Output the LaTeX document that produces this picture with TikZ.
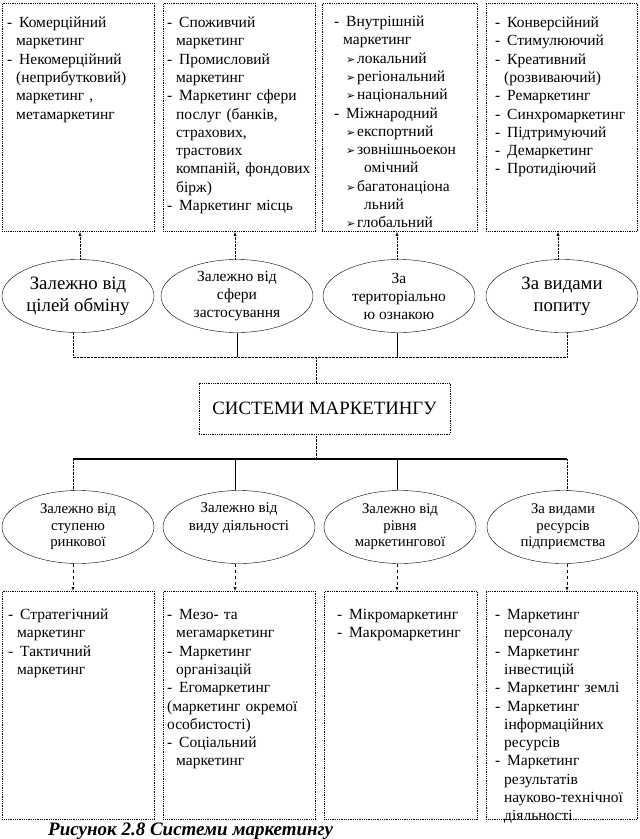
\documentclass[tikz,border=0pt]{standalone}
\usepackage{fontspec}
\setmainfont{Liberation Serif}
\newfontfamily\symfont{DejaVu Sans}
\usetikzlibrary{shapes.geometric}

\newcommand{\itm}[1]{\par\hangindent=9pt\hangafter=1\noindent\makebox[12pt][l]{-}#1}
\newcommand{\ritm}[1]{\par\hangindent=30pt\hangafter=1\noindent\hspace*{12pt}\makebox[11pt][l]{\symfont\fontsize{11}{11}\selectfont ➢}#1}

\tikzset{
    tbox/.style={draw,densely dotted,line width=0.8pt,inner sep=0pt,anchor=north west},
    tbody/.style={anchor=north west,inner sep=0pt,text width=150pt,align=left,font=\fontsize{15.5}{18.3}\selectfont},
    ellip/.style={draw,ellipse,minimum width=152,minimum height=73,inner sep=-4pt,align=center},
    big/.style={font=\fontsize{18.8}{22}\selectfont},
    mid/.style={font=\fontsize{15.5}{18}\selectfont},
    small/.style={font=\fontsize{14.8}{16.5}\selectfont}
}

\begin{document}
\begin{tikzpicture}[x=1pt,y=-1pt,>=latex]
        \useasboundingbox (0,0) rectangle (640,839);

        % top boxes
        \node[tbox,minimum width=152,minimum height=228] (T1) at (2,3) {};
        \node[tbox,minimum width=152,minimum height=228] (T2) at (163,3) {};
        \node[tbox,minimum width=155,minimum height=228] (T3) at (322,3) {};
        \node[tbox,minimum width=151,minimum height=228] (T4) at (486,3) {};

        \node[tbody] (t1) at ([xshift=5pt,yshift=-6pt]T1.north west) {
            \itm{Комерційний\newline маркетинг}
            \itm{Некомерційний\newline (неприбутковий)\newline маркетинг ,\newline метамаркетинг}\par};
        \node[tbody] (t2) at ([xshift=4pt,yshift=-6pt]T2.north west) {
            \itm{Споживчий\newline маркетинг}
            \itm{Промисловий\newline маркетинг}
            \itm{Маркетинг сфери\newline послуг (банків,\newline страхових,\newline трастових\newline компаній, фондових\newline бірж)}
            \itm{Маркетинг місць}\par};
        \node[tbody] (t3) at ([xshift=12pt,yshift=-5pt]T3.north west) {
            \itm{Внутрішній\newline маркетинг}
            \ritm{локальний}
            \ritm{регіональний}
            \ritm{національний}
            \itm{Міжнародний}
            \ritm{експортний}
            \ritm{зовнішньоекон\newline омічний}
            \ritm{багатонаціона\newline льний}
            \ritm{глобальний}\par};
        \node[tbody] (t4) at ([xshift=9pt,yshift=-6pt]T4.north west) {
            \itm{Конверсійний}
            \itm{Стимулюючий}
            \itm{Креативний\newline (розвиваючий)}
            \itm{Ремаркетинг}
            \itm{Синхромаркетинг}
            \itm{Підтримуючий}
            \itm{Демаркетинг}
            \itm{Протидіючий}\par};

        % top ellipses
        \node[ellip,big] (E1) at (78,296) {Залежно від\\цілей обміну};
        \node[ellip,mid] (E2) at (237,296) {Залежно від\\сфери\\застосування};
        \node[ellip,mid] (E3) at (399,296) {За\\територіально\\ю ознакою};
        \node[ellip,big] (E4) at (562,296) {За видами\\попиту};

        \draw[densely dotted,->] ([xshift=2pt]E1.north) -- ([xshift=2pt]E1.north |- T1.south);
        \draw[densely dotted,->] ([xshift=-2pt]E2.north) -- ([xshift=-2pt]E2.north |- T2.south);
        \draw[densely dotted,->] ([xshift=-2pt]E3.north) -- ([xshift=-2pt]E3.north |- T3.south);
        \draw[densely dotted,->] ([xshift=-4pt]E4.north) -- ([xshift=-4pt]E4.north |- T4.south);

        % centre
        \node[draw,densely dotted,line width=0.8pt,minimum width=251,minimum height=51,font=\fontsize{18.8}{20}\selectfont] (sys) at (324.5,408.5) {СИСТЕМИ МАРКЕТИНГУ};
        \coordinate (ub) at (316,357);
        \coordinate (lb) at (316,459);

        \draw[densely dotted] ([xshift=-5pt]E1.south) |- ([xshift=5pt]E4.south |- ub) -- ([xshift=5pt]E4.south);
        \draw (E2.south) -- (E2.south |- ub);
        \draw ([xshift=-2pt]E3.south) -- ([xshift=-2pt]E3.south |- ub);
        \draw[densely dotted] (ub) -- (ub |- sys.north);
        \draw[densely dotted] (ub |- sys.south) -- (lb);

        % bottom ellipses
        \node[ellip,small] (F1) at (78,527) {Залежно від\\ступеню\\ринкової};
        \node[ellip] (F2) at (239,527) {};
        \node[align=center,inner sep=0pt,font=\fontsize{15}{17.5}\selectfont] (f2) at ([yshift=9pt]F2.center) {Залежно від\\виду діяльності};
        \node[ellip,small] (F3) at (400,527) {Залежно від\\рівня\\маркетингової};
        \node[ellip,small] (F4) at (563,527) {За видами\\ресурсів\\підприємства};

        \draw[line width=1.6pt] ([xshift=-5pt]F1.north |- lb) -- ([xshift=4pt]F4.north |- lb);
        \draw[densely dotted] ([xshift=-5pt]F1.north |- lb) -- ([xshift=-5pt]F1.north);
        \draw ([xshift=-4pt]F2.north |- lb) -- ([xshift=-4pt]F2.north);
        \draw ([xshift=-3pt]F3.north |- lb) -- ([xshift=-3pt]F3.north);
        \draw[densely dotted] ([xshift=4pt]F4.north |- lb) -- ([xshift=4pt]F4.north);

        % bottom boxes
        \node[tbox,minimum width=152,minimum height=228] (B1) at (2,591) {};
        \node[tbox,minimum width=152,minimum height=228] (B2) at (163,591) {};
        \node[tbox,minimum width=153,minimum height=228] (B3) at (324,591) {};
        \node[tbox,minimum width=151,minimum height=228] (B4) at (486,591) {};

        \draw[dashed,->] ([xshift=-5pt]F1.south) -- ([xshift=-5pt]F1.south |- B1.north);
        \draw[dashed,->] ([xshift=-4pt]F2.south) -- ([xshift=-4pt]F2.south |- B2.north);
        \draw[dashed,->] ([xshift=-3pt]F3.south) -- ([xshift=-3pt]F3.south |- B3.north);
        \draw[dashed,->] ([xshift=4pt]F4.south) -- ([xshift=4pt]F4.south |- B4.north);

        \node[tbody] (b1) at ([xshift=6pt,yshift=-10pt]B1.north west) {
            \itm{Стратегічний\newline маркетинг}
            \itm{Тактичний\newline маркетинг}\par};
        \node[tbody] (b2) at ([xshift=4pt,yshift=-10pt]B2.north west) {
            \itm{Мезо- та\newline мегамаркетинг}
            \itm{Маркетинг\newline організацій}
            \itm{Егомаркетинг\newline\hspace*{-9pt}(маркетинг окремої\newline\hspace*{-9pt}особистості)}
            \itm{Соціальний\newline маркетинг}\par};
        \node[tbody] (b3) at ([xshift=13pt,yshift=-10pt]B3.north west) {
            \itm{Мікромаркетинг}
            \itm{Макромаркетинг}\par};
        \node[tbody] (b4) at ([xshift=9pt,yshift=-10pt]B4.north west) {
            \itm{Маркетинг\newline персоналу}
            \itm{Маркетинг\newline інвестицій}
            \itm{Маркетинг землі}
            \itm{Маркетинг\newline інформаційних\newline ресурсів}
            \itm{Маркетинг\newline результатів\newline науково-технічної\newline діяльності}\par};

        \node[anchor=base west,inner sep=0pt,font=\fontsize{19}{20}\selectfont\bfseries\itshape] (cap) at (48,835) {Рисунок 2.8 Системи маркетингу};
    \end{tikzpicture}
\end{document}
